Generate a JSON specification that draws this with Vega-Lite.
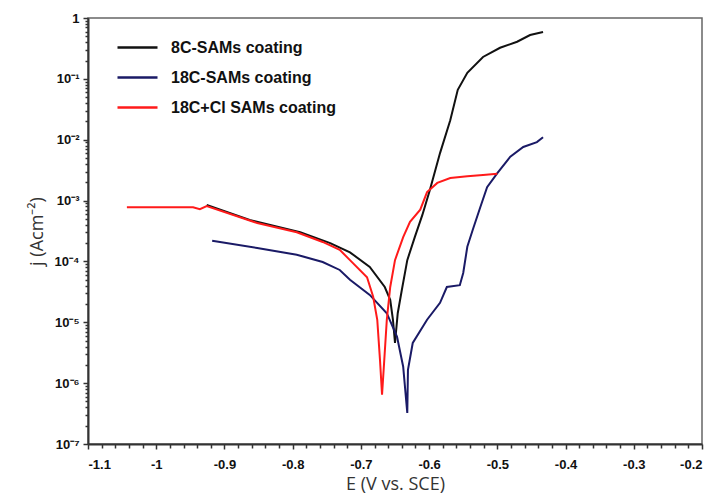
{
  "$schema": "https://vega.github.io/schema/vega-lite/v6.json",
  "width": 614,
  "height": 426,
  "autosize": {"type": "none"},
  "padding": {"left": 88, "top": 18, "right": 18, "bottom": 60},
  "background": "white",
  "config": {
    "view": {"stroke": "#666666", "strokeWidth": 1.5},
    "axis": {"grid": false, "domainColor": "#333333", "domainWidth": 2, "tickColor": "#333333", "tickWidth": 1.5,
      "labelFont": "Liberation Sans", "labelFontWeight": "bold", "labelFontSize": 13, "labelColor": "#111111",
      "titleFont": "Open Sans", "titleFontWeight": "normal", "titleFontSize": 18, "titleColor": "#333333"}
  },
  "data": {"values": [
    {"s": "8C-SAMs coating", "E": -0.926, "j": 8.51e-4},
    {"s": "8C-SAMs coating", "E": -0.863, "j": 4.79e-4},
    {"s": "8C-SAMs coating", "E": -0.789, "j": 3.02e-4},
    {"s": "8C-SAMs coating", "E": -0.745, "j": 2.00e-4},
    {"s": "8C-SAMs coating", "E": -0.716, "j": 1.41e-4},
    {"s": "8C-SAMs coating", "E": -0.687, "j": 8.13e-5},
    {"s": "8C-SAMs coating", "E": -0.665, "j": 3.80e-5},
    {"s": "8C-SAMs coating", "E": -0.657, "j": 2.34e-5},
    {"s": "8C-SAMs coating", "E": -0.653, "j": 1.10e-5},
    {"s": "8C-SAMs coating", "E": -0.650, "j": 4.57e-6},
    {"s": "8C-SAMs coating", "E": -0.646, "j": 1.41e-5},
    {"s": "8C-SAMs coating", "E": -0.640, "j": 3.39e-5},
    {"s": "8C-SAMs coating", "E": -0.632, "j": 1.05e-4},
    {"s": "8C-SAMs coating", "E": -0.621, "j": 2.51e-4},
    {"s": "8C-SAMs coating", "E": -0.610, "j": 5.75e-4},
    {"s": "8C-SAMs coating", "E": -0.599, "j": 1.48e-3},
    {"s": "8C-SAMs coating", "E": -0.584, "j": 6.03e-3},
    {"s": "8C-SAMs coating", "E": -0.569, "j": 2.09e-2},
    {"s": "8C-SAMs coating", "E": -0.558, "j": 6.61e-2},
    {"s": "8C-SAMs coating", "E": -0.544, "j": 0.126},
    {"s": "8C-SAMs coating", "E": -0.521, "j": 0.229},
    {"s": "8C-SAMs coating", "E": -0.496, "j": 0.324},
    {"s": "8C-SAMs coating", "E": -0.471, "j": 0.407},
    {"s": "8C-SAMs coating", "E": -0.452, "j": 0.525},
    {"s": "8C-SAMs coating", "E": -0.433, "j": 0.589},
    {"s": "18C-SAMs coating", "E": -0.918, "j": 2.19e-4},
    {"s": "18C-SAMs coating", "E": -0.852, "j": 1.66e-4},
    {"s": "18C-SAMs coating", "E": -0.794, "j": 1.29e-4},
    {"s": "18C-SAMs coating", "E": -0.756, "j": 9.77e-5},
    {"s": "18C-SAMs coating", "E": -0.731, "j": 7.24e-5},
    {"s": "18C-SAMs coating", "E": -0.716, "j": 5.01e-5},
    {"s": "18C-SAMs coating", "E": -0.687, "j": 2.82e-5},
    {"s": "18C-SAMs coating", "E": -0.662, "j": 1.41e-5},
    {"s": "18C-SAMs coating", "E": -0.647, "j": 5.75e-6},
    {"s": "18C-SAMs coating", "E": -0.638, "j": 1.86e-6},
    {"s": "18C-SAMs coating", "E": -0.632, "j": 3.24e-7},
    {"s": "18C-SAMs coating", "E": -0.631, "j": 1.66e-6},
    {"s": "18C-SAMs coating", "E": -0.624, "j": 4.57e-6},
    {"s": "18C-SAMs coating", "E": -0.603, "j": 1.10e-5},
    {"s": "18C-SAMs coating", "E": -0.584, "j": 2.09e-5},
    {"s": "18C-SAMs coating", "E": -0.574, "j": 3.80e-5},
    {"s": "18C-SAMs coating", "E": -0.555, "j": 4.07e-5},
    {"s": "18C-SAMs coating", "E": -0.550, "j": 6.46e-5},
    {"s": "18C-SAMs coating", "E": -0.544, "j": 1.74e-4},
    {"s": "18C-SAMs coating", "E": -0.536, "j": 3.31e-4},
    {"s": "18C-SAMs coating", "E": -0.525, "j": 7.76e-4},
    {"s": "18C-SAMs coating", "E": -0.515, "j": 1.66e-3},
    {"s": "18C-SAMs coating", "E": -0.500, "j": 2.82e-3},
    {"s": "18C-SAMs coating", "E": -0.481, "j": 5.25e-3},
    {"s": "18C-SAMs coating", "E": -0.462, "j": 7.59e-3},
    {"s": "18C-SAMs coating", "E": -0.442, "j": 9.12e-3},
    {"s": "18C-SAMs coating", "E": -0.433, "j": 1.10e-2},
    {"s": "18C+Cl SAMs coating", "E": -1.043, "j": 7.76e-4},
    {"s": "18C+Cl SAMs coating", "E": -1.009, "j": 7.76e-4},
    {"s": "18C+Cl SAMs coating", "E": -0.946, "j": 7.76e-4},
    {"s": "18C+Cl SAMs coating", "E": -0.936, "j": 7.24e-4},
    {"s": "18C+Cl SAMs coating", "E": -0.926, "j": 8.13e-4},
    {"s": "18C+Cl SAMs coating", "E": -0.852, "j": 4.27e-4},
    {"s": "18C+Cl SAMs coating", "E": -0.794, "j": 3.02e-4},
    {"s": "18C+Cl SAMs coating", "E": -0.756, "j": 2.09e-4},
    {"s": "18C+Cl SAMs coating", "E": -0.731, "j": 1.55e-4},
    {"s": "18C+Cl SAMs coating", "E": -0.716, "j": 1.05e-4},
    {"s": "18C+Cl SAMs coating", "E": -0.691, "j": 5.50e-5},
    {"s": "18C+Cl SAMs coating", "E": -0.682, "j": 2.63e-5},
    {"s": "18C+Cl SAMs coating", "E": -0.676, "j": 1.10e-5},
    {"s": "18C+Cl SAMs coating", "E": -0.672, "j": 2.40e-6},
    {"s": "18C+Cl SAMs coating", "E": -0.669, "j": 6.46e-7},
    {"s": "18C+Cl SAMs coating", "E": -0.666, "j": 2.14e-6},
    {"s": "18C+Cl SAMs coating", "E": -0.662, "j": 1.10e-5},
    {"s": "18C+Cl SAMs coating", "E": -0.657, "j": 3.80e-5},
    {"s": "18C+Cl SAMs coating", "E": -0.650, "j": 1.05e-4},
    {"s": "18C+Cl SAMs coating", "E": -0.638, "j": 2.51e-4},
    {"s": "18C+Cl SAMs coating", "E": -0.628, "j": 4.47e-4},
    {"s": "18C+Cl SAMs coating", "E": -0.613, "j": 7.08e-4},
    {"s": "18C+Cl SAMs coating", "E": -0.603, "j": 1.38e-3},
    {"s": "18C+Cl SAMs coating", "E": -0.588, "j": 1.95e-3},
    {"s": "18C+Cl SAMs coating", "E": -0.569, "j": 2.34e-3},
    {"s": "18C+Cl SAMs coating", "E": -0.544, "j": 2.51e-3},
    {"s": "18C+Cl SAMs coating", "E": -0.521, "j": 2.63e-3},
    {"s": "18C+Cl SAMs coating", "E": -0.500, "j": 2.75e-3}
  ]},
  "mark": {"type": "line", "strokeWidth": 2, "clip": true},
  "encoding": {
    "x": {"field": "E", "type": "quantitative",
      "scale": {"domain": [-1.1, -0.2], "nice": false, "zero": false},
      "axis": {"title": "E (V vs. SCE)", "titlePadding": 4, "labelPadding": 9, "labelOverlap": false,
        "values": [-1.1,-1.08,-1.06,-1.04,-1.02,-1.0,-0.98,-0.96,-0.94,-0.92,-0.9,-0.88,-0.86,-0.84,-0.82,-0.8,-0.78,-0.76,-0.74,-0.72,-0.7,-0.68,-0.66,-0.64,-0.62,-0.6,-0.58,-0.56,-0.54,-0.52,-0.5,-0.48,-0.46,-0.44,-0.42,-0.4,-0.38,-0.36,-0.34,-0.32,-0.3,-0.28,-0.26,-0.24,-0.22,-0.2],
        "labelExpr": "abs(datum.value*10 - round(datum.value*10)) < 0.001 ? toString(round(datum.value*10)/10) : ''",
        "tickSize": {"condition": {"test": "abs(datum.value*10 - round(datum.value*10)) < 0.001", "value": 5}, "value": 4}}},
    "y": {"field": "j", "type": "quantitative",
      "scale": {"type": "log", "domain": [1e-7, 1], "nice": false},
      "axis": {"title": "j (Acm⁻²)", "titlePadding": 8, "labelPadding": 4, "labelOverlap": false,
        "values": [1e-7,2e-7,3e-7,4e-7,5e-7,6e-7,7e-7,8e-7,9e-7,1e-6,2e-6,3e-6,4e-6,5e-6,6e-6,7e-6,8e-6,9e-6,1e-5,2e-5,3e-5,4e-5,5e-5,6e-5,7e-5,8e-5,9e-5,1e-4,2e-4,3e-4,4e-4,5e-4,6e-4,7e-4,8e-4,9e-4,1e-3,2e-3,3e-3,4e-3,5e-3,6e-3,7e-3,8e-3,9e-3,1e-2,2e-2,3e-2,4e-2,5e-2,6e-2,7e-2,8e-2,9e-2,0.1,0.2,0.3,0.4,0.5,0.6,0.7,0.8,0.9,1],
        "labelExpr": "abs(log(datum.value)/LN10 - round(log(datum.value)/LN10)) < 0.001 ? (datum.value > 0.5 ? '1' : '10⁻' + ['⁰','¹','²','³','⁴','⁵','⁶','⁷'][round(-log(datum.value)/LN10)]) : ''",
        "tickSize": {"condition": {"test": "abs(log(datum.value)/LN10 - round(log(datum.value)/LN10)) < 0.001", "value": 5}, "value": 3}}},
    "color": {"field": "s", "type": "nominal",
      "scale": {"domain": ["8C-SAMs coating", "18C-SAMs coating", "18C+Cl SAMs coating"], "range": ["#111111", "#1a1a66", "#ff1a1a"]},
      "legend": {"title": null, "orient": "none", "legendX": 28, "legendY": 8, "symbolType": "stroke", "symbolSize": 1600,
        "symbolStrokeWidth": 2.5, "labelFont": "Liberation Sans", "labelFontWeight": "bold", "labelFontSize": 16, "labelColor": "#111111",
        "labelOffset": 12, "rowPadding": -11, "labelLimit": 400}}
  }
}
